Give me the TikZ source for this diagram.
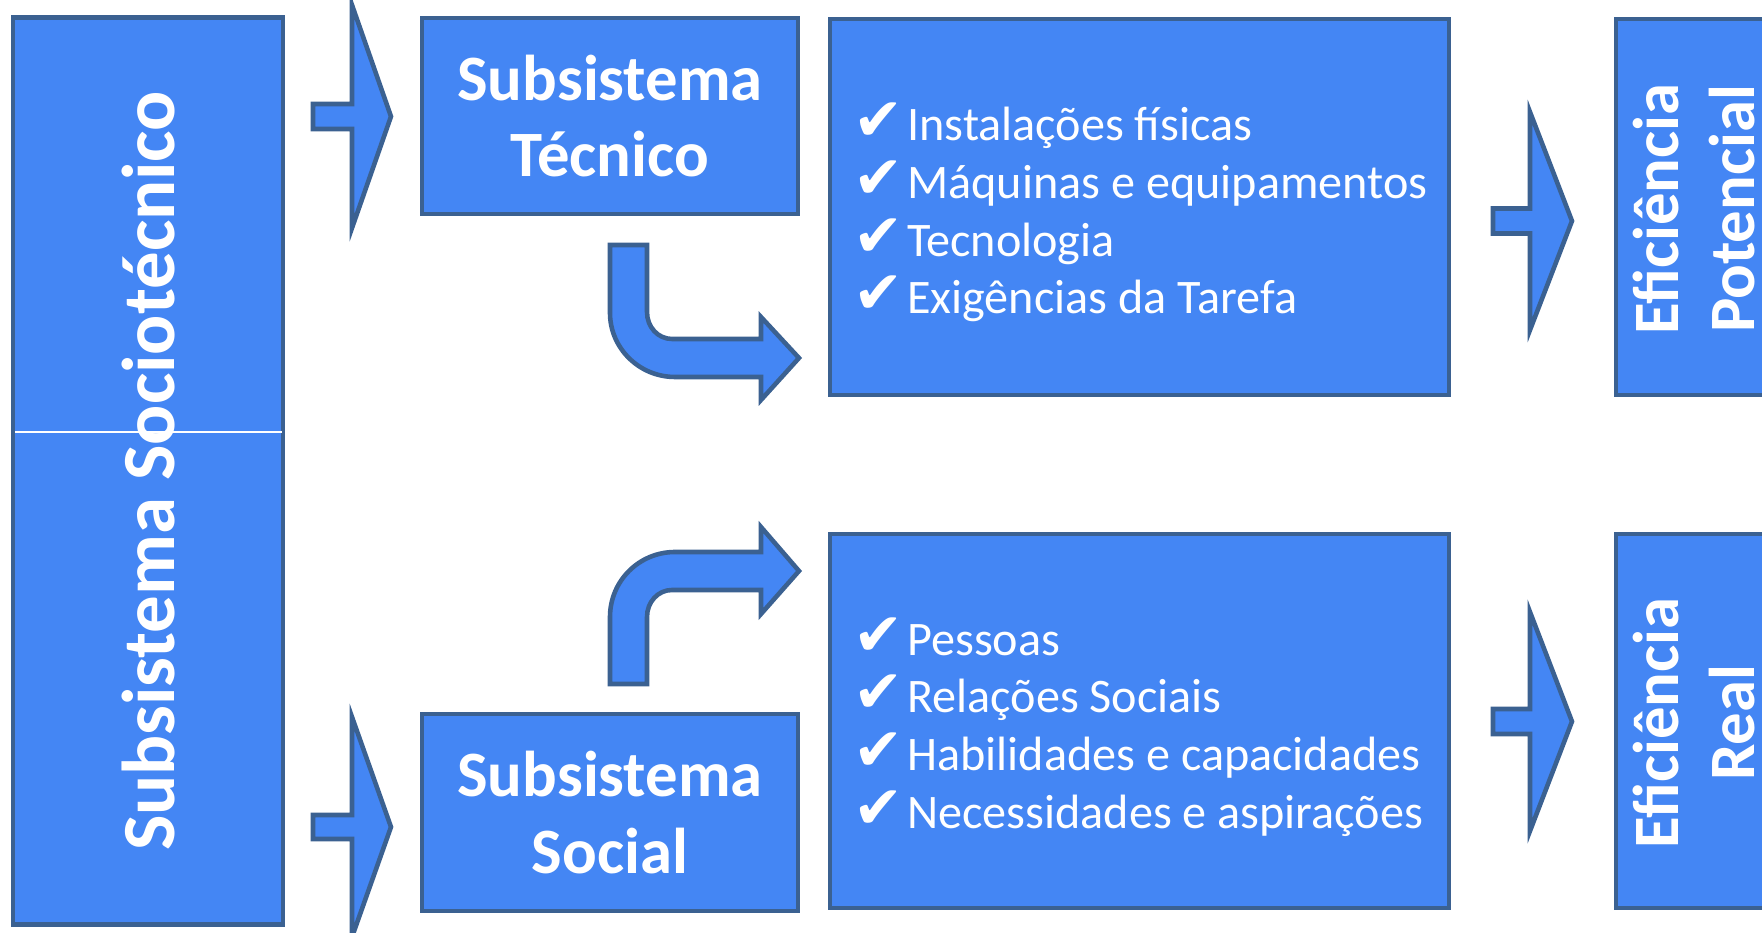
\documentclass[tikz,border=0pt]{standalone}
\usepackage{fontspec}
\setmainfont{Carlito}
\newfontfamily\checkfont{DejaVu Sans}
\usetikzlibrary{positioning}
\definecolor{BoxFill}{RGB}{68,134,244}
\definecolor{BoxLine}{RGB}{59,97,145}

\tikzset{
  box/.style={draw=BoxLine, fill=BoxFill, line width=1.3pt, inner sep=0pt},
  blockarrow/.style={draw=BoxLine, fill=BoxFill, line width=1.3pt, line join=miter},
  boxtitle/.style={text=white, align=center, font=\fontsize{18.4}{21.8}\selectfont\bfseries},
  listtext/.style={text=white, align=left, inner sep=0pt, anchor=west, font=\fontsize{13.7}{16.4}\selectfont},
}
\newcommand{\checkmk}{\makebox[0.54cm][l]{\checkfont\fontsize{17}{16.4}\selectfont ✔}}

\begin{document}
\begin{tikzpicture}[x=0.01cm, y=0.01cm]
        \clip (0,0) rectangle (1762,933);

        % Subsistema Sociotecnico
        \node[box, minimum width=2.7cm, minimum height=9.07cm] (socio) at (148,462) {};
        \draw[white, line width=0.6pt] (15,501) -- (282,501);
        \node[boxtitle, rotate=90, font=\fontsize{21.3}{24}\selectfont\bfseries] (sociolabel) at (socio) {Subsistema Sociotécnico};

        % Subsistemas
        \node[box, boxtitle, minimum width=3.76cm, minimum height=1.96cm] (tecnico) at (610,817) {Subsistema\\Técnico};
        \node[box, boxtitle, minimum width=3.76cm, minimum height=1.97cm] (social) at (610,120.5) {Subsistema\\Social};

        % Listas
        \node[box, minimum width=6.19cm, minimum height=3.76cm] (techlist) at (1139.5,726) {};
        \node[listtext] (techitems) at ([xshift=0.25cm, yshift=-0.055cm]techlist.west) {\checkmk Instalações físicas\\\checkmk Máquinas e equipamentos\\\checkmk Tecnologia\\\checkmk Exigências da Tarefa};

        \node[box, minimum width=6.19cm, minimum height=3.74cm] (soclist) at (1139.5,212) {};
        \node[listtext] (socitems) at ([xshift=0.25cm, yshift=-0.06cm]soclist.west) {\checkmk Pessoas\\\checkmk Relações Sociais\\\checkmk Habilidades e capacidades\\\checkmk Necessidades e aspirações};

        % Eficiencia
        \node[box, minimum width=1.56cm, minimum height=3.76cm] (potencial) at (1694,726) {};
        \node[boxtitle, rotate=90] (potlabel) at ([yshift=-0.02cm]potencial.center) {Eficiência\\Potencial};

        \node[box, minimum width=1.56cm, minimum height=3.74cm] (real) at (1694,212) {};
        \node[boxtitle, rotate=90] (reallabel) at ([yshift=-0.02cm]real.center) {Eficiência\\Real};

        % Setas retas
        \draw[blockarrow] (313,829) -- (352,829) -- (352,928) -- (391,816.5) -- (352,705) -- (352,804) -- (313,804) -- cycle;
        \draw[blockarrow] (313,118) -- (352,118) -- (352,216) -- (391,106) -- (352,-4) -- (352,94) -- (313,94) -- cycle;
        \draw[blockarrow] (1493,724.5) -- (1530,724.5) -- (1530,821) -- (1572,712) -- (1530,603) -- (1530,699.5) -- (1493,699.5) -- cycle;
        \draw[blockarrow] (1493,224) -- (1530,224) -- (1530,321) -- (1572,211.5) -- (1530,102) -- (1530,199) -- (1493,199) -- cycle;

        % Setas curvas
        \draw[blockarrow] (610,688) -- (647,688) -- (647,621) .. controls (647,606) and (658,594) .. (672,594)
            -- (761,594) -- (761,616) -- (799,575) -- (761,533) -- (761,556) -- (675,556)
            .. controls (639,556) and (610,585) .. (610,620) -- cycle;
        \draw[blockarrow] (610,249) -- (610,316) .. controls (610,352) and (639,381) .. (675,381)
            -- (761,381) -- (761,406) -- (799,362) -- (761,319) -- (761,343) -- (672,343)
            .. controls (658,343) and (647,331) .. (647,316) -- (647,249) -- cycle;
\end{tikzpicture}
\end{document}
